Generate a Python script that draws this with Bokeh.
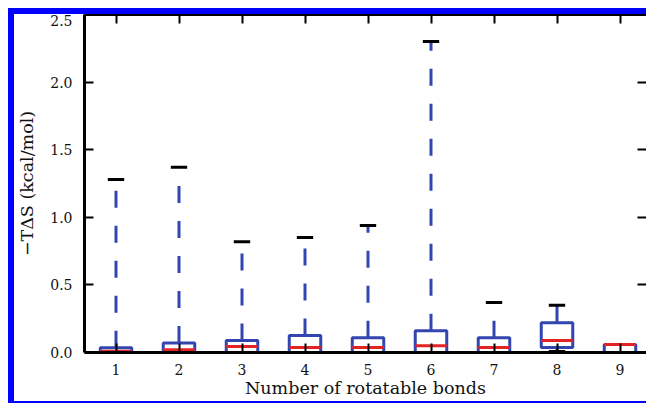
from bokeh.plotting import figure
from bokeh.layouts import row, column
from bokeh.models import (LinearAxis, FixedTicker, PrintfTickFormatter, Range1d,
                          ColumnDataSource, Spacer)
from bokeh.embed import file_html
from bokeh.resources import INLINE

# ---- data ----
bonds = [1, 2, 3, 4, 5, 6, 7, 8, 9]
x_tick_labels = ["1", "2", "3", "4", "5", "6", "7", "8", "9"]
q1 = [0.0, 0.0, 0.0, 0.0, 0.0, 0.0, 0.0, 0.037, 0.0]
median = [0.01, 0.02, 0.044, 0.037, 0.037, 0.05, 0.037, 0.088, 0.059]
q3 = [0.035, 0.07, 0.088, 0.125, 0.11, 0.16, 0.11, 0.22, 0.059]
whisker_hi = [1.28, 1.37, 0.82, 0.85, 0.94, 2.30, 0.37, 0.35, 0.059]
whisker_lo = [0.0, 0.0, 0.0, 0.0, 0.0, 0.0, 0.0, 0.007, 0.0]
y_ticks = [0.0, 0.5, 1.0, 1.5, 2.0, 2.5]

x_label = "Number of rotatable bonds"
y_label = "\u2212T\u0394S (kcal/mol)"

BOX_W = 0.5
CAP_W = 0.26
BLUE = "#3346b0"
RED = "#e42424"
EDGE = "#0000ff"
FONT = "DejaVu Serif"

src = ColumnDataSource(dict(
    x=bonds,
    left=[b - BOX_W / 2 for b in bonds],
    right=[b + BOX_W / 2 for b in bonds],
    cl=[b - CAP_W / 2 for b in bonds],
    cr=[b + CAP_W / 2 for b in bonds],
    q1=q1, q3=q3, med=median, hi=whisker_hi, lo=whisker_lo,
))

p = figure(width=632, height=387, output_backend="svg", toolbar_location=None,
           x_range=Range1d(0.5, 0.5 + 562 / 63.0), y_range=Range1d(0, 2.5),
           min_border_left=70, min_border_right=0, min_border_top=0,
           min_border_bottom=49, x_axis_location=None, y_axis_location=None)
p.outline_line_color = None
p.xgrid.visible = False
p.ygrid.visible = False
p.background_fill_color = "white"
p.border_fill_color = "white"

# whiskers
p.segment(x0="x", y0="q3", x1="x", y1="hi", source=src, line_color=BLUE,
          line_width=3, line_dash="17 18")
p.segment(x0="x", y0="q1", x1="x", y1="lo", source=src, line_color=BLUE,
          line_width=3, line_dash="17 18")
# caps
p.segment(x0="cl", y0="hi", x1="cr", y1="hi", source=src, line_color="black", line_width=3)
p.segment(x0="cl", y0="lo", x1="cr", y1="lo", source=src, line_color="black", line_width=3)
# boxes
p.quad(left="left", right="right", bottom="q1", top="q3", source=src,
       fill_color=None, line_color=BLUE, line_width=3)
# medians
p.segment(x0="left", y0="med", x1="right", y1="med", source=src, line_color=RED, line_width=3)


def style_axis(ax, labels=True):
    ax.axis_line_color = "black"
    ax.axis_line_width = 3
    ax.major_tick_in = 9
    ax.major_tick_out = 0
    ax.minor_tick_line_color = None
    ax.major_tick_line_color = "black"
    ax.major_tick_line_width = 2
    if labels:
        ax.major_label_text_font = FONT
        ax.major_label_text_font_size = "14px"
        ax.major_label_text_color = "#111111"
        ax.axis_label_text_font = FONT
        ax.axis_label_text_font_size = "17.5px"
        ax.axis_label_text_font_style = "normal"
        ax.axis_label_text_color = "#111111"
    else:
        ax.major_label_text_font_size = "0px"
        ax.major_label_text_color = None
        ax.major_label_standoff = 0


xt = FixedTicker(ticks=bonds)
yt = FixedTicker(ticks=y_ticks)

xb = LinearAxis(ticker=xt, axis_label=x_label,
                major_label_overrides={b: s for b, s in zip(bonds, x_tick_labels)})
style_axis(xb)
xb.major_label_standoff = 11
xb.axis_label_standoff = 0
p.add_layout(xb, "below")

yl = LinearAxis(ticker=yt, axis_label=y_label, formatter=PrintfTickFormatter(format="%.1f"))
style_axis(yl)
yl.major_label_standoff = 12
yl.axis_label_standoff = 10
p.add_layout(yl, "left")

xa = LinearAxis(ticker=xt)
style_axis(xa, labels=False)
p.add_layout(xa, "above")

yr = LinearAxis(ticker=yt)
style_axis(yr, labels=False)
yr.axis_line_color = None
p.add_layout(yr, "right")

# blue frame around the picture, built from layout spacers
top_gap = Spacer(width=638, height=8)
top_bar = Spacer(width=638, height=6, background=EDGE)
left_bar = Spacer(width=6, height=387, background=EDGE)
bottom_bar = Spacer(width=638, height=2, background=EDGE)
left_gap = Spacer(width=8, height=403)

page = row(left_gap, column(top_gap, top_bar, row(left_bar, p), bottom_bar))

open("out.html", "w").write(file_html(page, INLINE))
